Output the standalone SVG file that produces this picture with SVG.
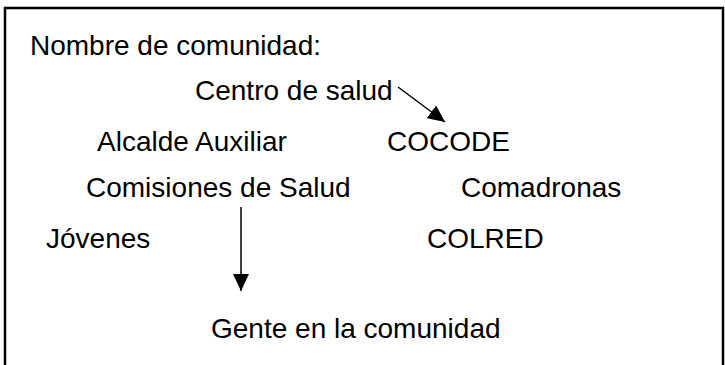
<svg xmlns="http://www.w3.org/2000/svg" width="725" height="365" viewBox="0 0 725 365">
<style>
text { font-family: "Liberation Sans", Arial, sans-serif; font-size: 28px; fill: #000; }
.conn { stroke: #000; stroke-width: 1.5; fill: none; }
</style>
<defs>
<marker id="ah" markerUnits="userSpaceOnUse" markerWidth="17" markerHeight="16" refX="17" refY="8" orient="auto">
<path d="M0,0 L17,8 L0,16 Z" fill="#000"/>
</marker>
</defs>
<rect x="5" y="8" width="718" height="370" fill="#fff" stroke="#000" stroke-width="2.5"/>
<g id="title"><text x="30" y="55">Nombre de comunidad:</text></g>
<g id="centro"><text x="195" y="100">Centro de salud</text></g>
<g id="alcalde"><text x="97" y="151">Alcalde Auxiliar</text></g>
<g id="cocode"><text x="387" y="151">COCODE</text></g>
<g id="comisiones"><text x="86" y="197">Comisiones de Salud</text></g>
<g id="comadronas"><text x="461" y="197">Comadronas</text></g>
<g id="jovenes"><text x="46" y="248">Jóvenes</text></g>
<g id="colred"><text x="427" y="248">COLRED</text></g>
<g id="gente"><text x="211" y="338">Gente en la comunidad</text></g>
<g id="connectors">
<line class="conn" x1="398" y1="87" x2="445" y2="122" marker-end="url(#ah)"/>
<line class="conn" x1="241" y1="207" x2="241" y2="291" marker-end="url(#ah)"/>
</g>
</svg>
